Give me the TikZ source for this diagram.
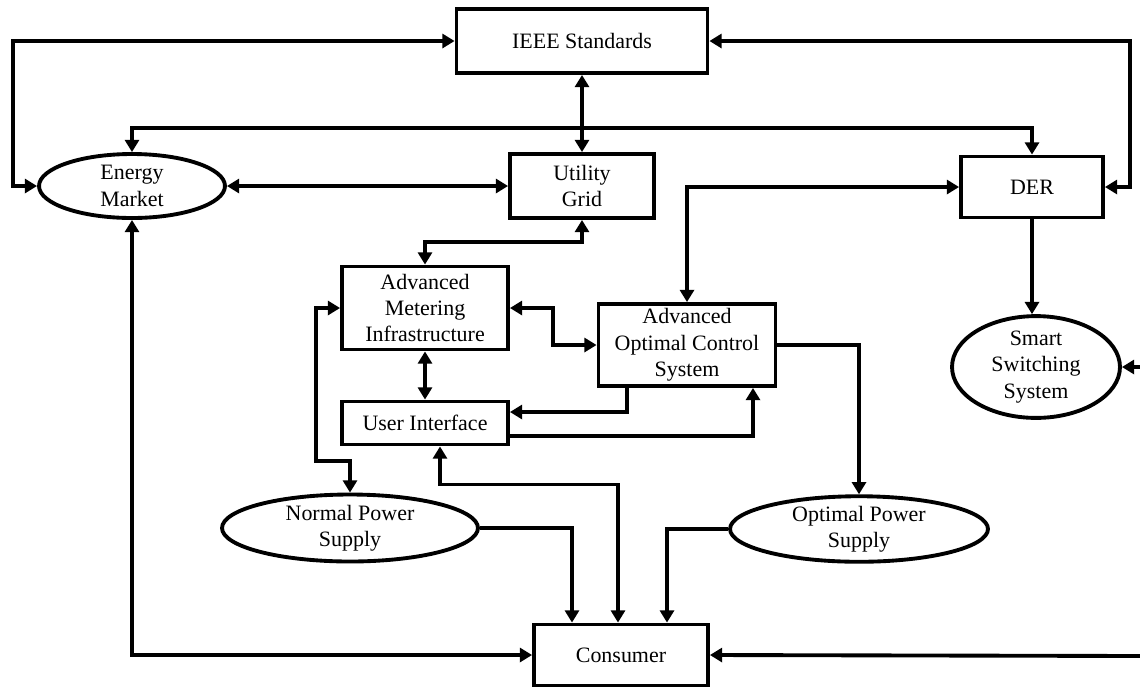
\documentclass[tikz,border=0pt]{standalone}
\usepackage{fontspec}
\setmainfont{Liberation Serif}
\usepackage{tikz}
\usetikzlibrary{arrows.meta}
\usetikzlibrary{calc}
\usetikzlibrary{shapes.geometric}
\usetikzlibrary{positioning}
\tikzstyle{blk}=[rectangle,draw=black,fill=white,line width=2.2pt,inner sep=0pt,align=center,font=\fontsize{12.5}{15}\selectfont]
\tikzstyle{oval}=[ellipse,draw=black,fill=white,line width=2.2pt,inner sep=0pt,align=center,font=\fontsize{12.5}{15}\selectfont]
\tikzstyle{arr}=[-{Triangle[length=7pt,width=8pt]},draw=black,line width=2.2pt]
\tikzstyle{darr}=[{Triangle[length=7pt,width=8pt]}-{Triangle[length=7pt,width=8pt]},draw=black,line width=2.2pt]

\begin{document}
\begin{tikzpicture}[x=0.02cm,y=-0.02cm]
  \useasboundingbox (0,0) rectangle (1140,691);
  \node[blk,minimum width=5.02cm,minimum height=1.28cm] (ieee) at (582,41) {IEEE Standards};
  \node[oval,minimum width=3.72cm,minimum height=1.28cm] (em) at (132,186) {Energy\\Market};
  \node[blk,minimum width=2.88cm,minimum height=1.28cm] (ug) at (582,186) {Utility\\Grid};
  \node[blk,minimum width=2.84cm,minimum height=1.22cm] (der) at (1032,187) {DER};
  \node[blk,minimum width=3.32cm,minimum height=1.66cm] (ami) at (425,308) {Advanced\\Metering\\Infrastructure};
  \node[blk,minimum width=3.32cm,minimum height=0.86cm] (ui) at (425,423) {User Interface};
  \node[blk,minimum width=3.54cm,minimum height=1.64cm] (aocs) at (687,345) {Advanced\\Optimal Control\\System};
  \node[oval,minimum width=3.36cm,minimum height=1.7cm] (sss) at (1036,367) {Smart\\Switching\\System};
  \node[oval,minimum width=5.12cm,minimum height=1.34cm] (nps) at (350,528) {Normal Power\\Supply};
  \node[oval,minimum width=5.16cm,minimum height=1.3cm] (ops) at (859,529) {Optimal Power\\Supply};
  \node[blk,minimum width=3.48cm,minimum height=1.22cm] (con) at (621,655) {Consumer};
  \coordinate (sssin) at (1142,367);
  \coordinate (conin) at (1142,656);

  \draw[darr] (ieee.west) -| (13,186) -- (em.west);
  \draw[darr] (ieee.east) -| (1130,187) -- (der.east);
  \draw[darr] (ieee.south) -- (ug.north);
  \draw[darr] (em.north) -- ++(0,-24) -| (der.north);
  \draw[darr] (em.east) -- (ug.west);
  \draw[darr] (der.west) -| (aocs.north);
  \draw[arr] (der.south) -- (der.south |- sss.north);
  \draw[arr] (sssin) -- (sss.east);
  \draw[darr] (ug.south) -- ++(0,22) -| (ami.north);
  \draw[darr] (ami.east) -- ++(43,0) |- (aocs.west);
  \draw[darr] (ami.south) -- (ui.north);
  \draw[darr] (ami.west) -| (316,461) -| (nps.north);
  \draw[arr] ($(aocs.south)+(-60,0)$) |- ($(ui.east)+(0,-11)$);
  \draw[arr] ($(ui.east)+(0,13)$) -| ($(aocs.south)+(66,0)$);
  \draw[darr] ($(ui.south)+(15,0)$) -- ++(0,38) -| ($(con.north)+(-3,0)$);
  \draw[arr] (nps.east) -| ($(con.north)+(-49,0)$);
  \draw[arr] (ops.west) -| ($(con.north)+(46,0)$);
  \draw[arr] (aocs.east) -| (ops.north);
  \draw[darr] (em.south) |- (con.west);
  \draw[arr] (conin) -- (con.east);
\end{tikzpicture}
\end{document}
